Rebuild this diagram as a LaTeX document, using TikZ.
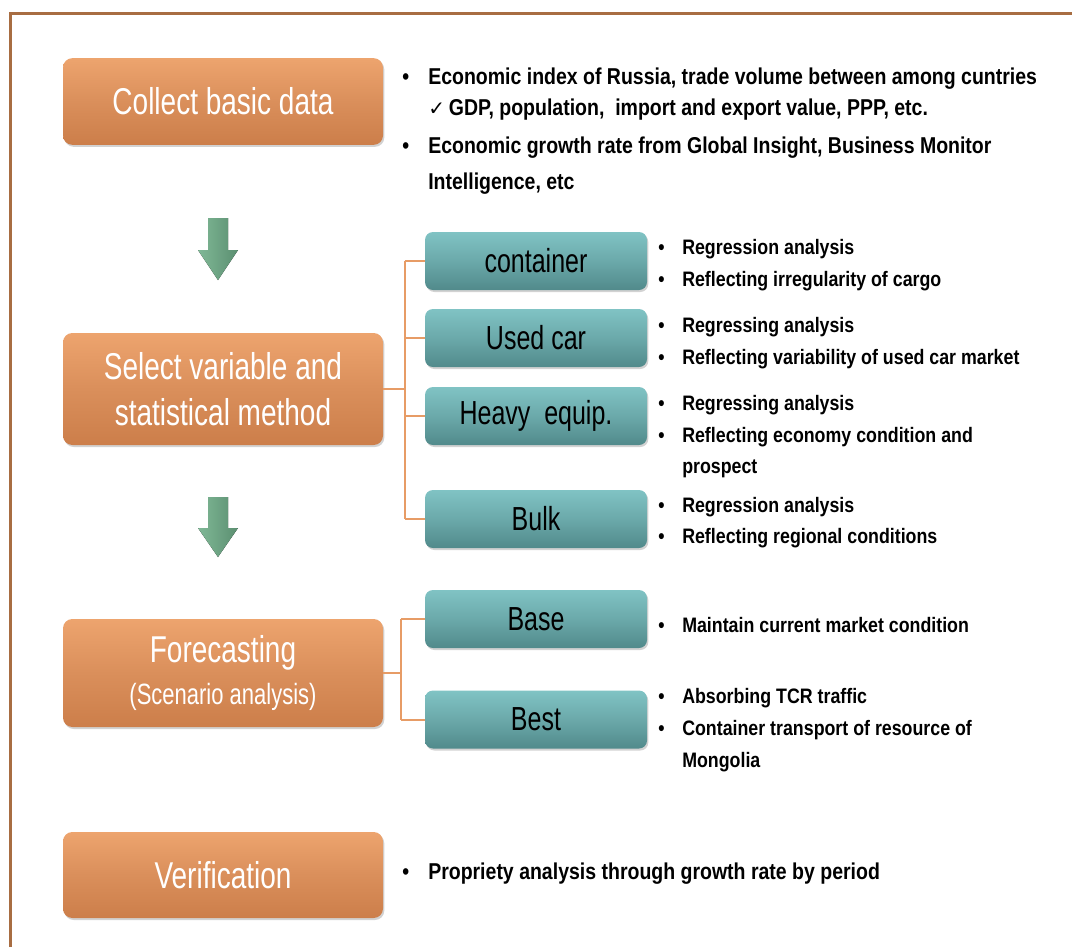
\documentclass[tikz,border=0pt]{standalone}
\usepackage{fontspec}
\setmainfont{Liberation Sans}
\newfontfamily\boxfont[FakeStretch=0.75]{Liberation Sans}
\newfontfamily\notefont[FakeStretch=0.85]{Liberation Sans}
\newfontfamily\symbfont{DejaVu Sans}
\usetikzlibrary{shadows}
\definecolor{framebrown}{HTML}{A86D42}
\definecolor{steptop}{HTML}{EDA46E}
\definecolor{stepmid}{HTML}{DA8F5B}
\definecolor{stepbot}{HTML}{CC7E4A}
\definecolor{cattop}{HTML}{80C3C4}
\definecolor{catmid}{HTML}{6BA9AA}
\definecolor{catbot}{HTML}{518A8B}
\definecolor{linkorange}{HTML}{E79C66}
\definecolor{arrowlight}{HTML}{80B897}
\definecolor{arrowdark}{HTML}{5B8F70}
\tikzset{
  stepbox/.style={rounded corners=7pt, minimum width=240pt, inner sep=0pt,
    align=center, text=white, font=\boxfont\fontsize{28}{34}\selectfont,
    top color=steptop, bottom color=stepbot, middle color=stepmid,
    drop shadow={shadow xshift=1pt, shadow yshift=-1.5pt, fill=black!35}},
  catbox/.style={rounded corners=6pt, minimum width=166.5pt, minimum height=43.5pt,
    inner sep=0pt, text=black, font=\boxfont\fontsize{25}{30}\selectfont,
    top color=cattop, bottom color=catbot, middle color=catmid,
    drop shadow={shadow xshift=1pt, shadow yshift=-1.5pt, fill=black!35}},
  link/.style={draw=linkorange, line width=1.5pt},
  note/.style={anchor=base west, inner sep=0pt, text=black,
    font=\notefont\bfseries\fontsize{15.7}{19}\selectfont},
  topnote/.style={note, font=\notefont\bfseries\fontsize{17.2}{21}\selectfont},
  downarrow/.style={left color=arrowlight, right color=arrowdark}
}
\newcommand{\blt}[1]{\makebox[#1][l]{\textbullet}}

\begin{document}
\begin{tikzpicture}[x=0.75pt,y=-0.75pt]
  \useasboundingbox (0,0) rectangle (1072,947);
  \draw[framebrown, line width=2.25pt] (10,947) -- (10,13) -- (1072,13);

  % steps
  \node[stepbox, minimum height=65pt] (collect) at (223,101.5) {Collect basic data};
  \node[stepbox, minimum height=84pt] (select) at (223,389) {Select variable and\\statistical method};
  \node[stepbox, minimum height=81pt] (forecast) at (223,673)
    {Forecasting\\[-3pt]{\fontsize{22}{26}\selectfont(Scenario analysis)}};
  \node[stepbox, minimum height=64.5pt] (verify) at (223,875) {Verification};

  % cargo and scenarios
  \node[catbox] (container) at (536,261) {container};
  \node[catbox] (usedcar) at (536,338) {Used car};
  \node[catbox] (heavy) at (536,416) {Heavy\ \ equip.};
  \node[catbox] (bulk) at (536,519) {Bulk};
  \node[catbox] (base) at (536,619) {Base};
  \node[catbox] (best) at (536,719.5) {Best};

  % arrows between steps
  \fill[downarrow] (208,218) -- (228,218) -- (228,250) -- (238,250) -- (218,280)
    -- (198,250) -- (208,250) -- cycle;
  \fill[downarrow] (208,497) -- (228,497) -- (228,528) -- (238,528) -- (218,557)
    -- (198,528) -- (208,528) -- cycle;

  % links
  \coordinate (sv) at (405,389);
  \coordinate (fv) at (401,673);
  \begin{scope}[link]
    \draw (select.east) -- (sv);
    \draw (sv |- container) -- (sv |- bulk);
    \draw (sv |- container) -- (container.west);
    \draw (sv |- usedcar) -- (usedcar.west);
    \draw (sv |- heavy) -- (heavy.west);
    \draw (sv |- bulk) -- (bulk.west);
    \draw (forecast.east) -- (fv);
    \draw (fv |- base) -- (fv |- best);
    \draw (fv |- base) -- (base.west);
    \draw (fv |- best) -- (best.west);
  \end{scope}

  % notes
  \node[topnote] (d1) at (402,84) {\blt{19.5pt}Economic index of Russia, trade volume between among cuntries};
  \node[topnote] (d2) at (428,115)
    {{\symbfont\bfseries\fontsize{15}{18}\selectfont ✓}\,GDP, population,\ \ import and export value, PPP, etc.};
  \node[topnote] (d3) at (402,153) {\blt{19.5pt}Economic growth rate from Global Insight, Business Monitor};
  \node[topnote] (d4) at (428,189) {Intelligence, etc};

  \node[note] (c1) at (658,254) {\blt{18pt}Regression analysis};
  \node[note] (c2) at (658,286) {\blt{18pt}Reflecting irregularity of cargo};
  \node[note] (u1) at (658,332) {\blt{18pt}Regressing analysis};
  \node[note] (u2) at (658,364) {\blt{18pt}Reflecting variability of used car market};
  \node[note] (h1) at (658,410) {\blt{18pt}Regressing analysis};
  \node[note] (h2) at (658,442) {\blt{18pt}Reflecting economy condition and};
  \node[note] (h3) at (682,473) {prospect};
  \node[note] (b1) at (658,512) {\blt{18pt}Regression analysis};
  \node[note] (b2) at (658,543) {\blt{18pt}Reflecting regional conditions};
  \node[note] (s1) at (658,632) {\blt{18pt}Maintain current market condition};
  \node[note] (t1) at (658,703) {\blt{18pt}Absorbing TCR traffic};
  \node[note] (t2) at (658,735) {\blt{18pt}Container transport of resource of};
  \node[note] (t3) at (682,767) {Mongolia};

  \node[topnote] (v1) at (402,879) {\blt{19.5pt}Propriety analysis through growth rate by period};
\end{tikzpicture}
\end{document}
